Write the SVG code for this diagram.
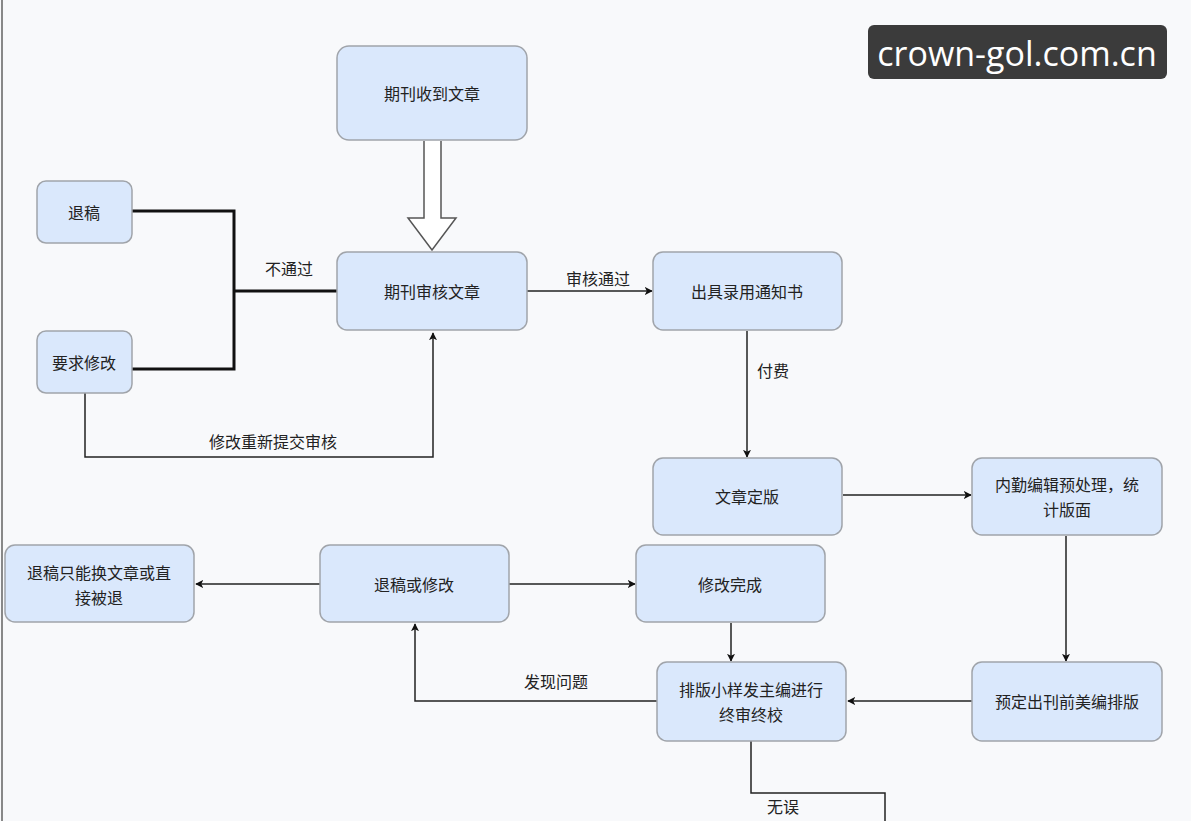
<svg xmlns="http://www.w3.org/2000/svg" width="1191" height="821" viewBox="0 0 1191 821">
<style>
.n{fill:#dae8fc;stroke:#a0a4aa;stroke-width:1.5}
.t{font-family:"Noto Sans CJK SC","Noto Sans",sans-serif;font-size:16px;fill:#222;text-anchor:middle;dominant-baseline:central}
.c{fill:none;stroke:#222;stroke-width:1.5}
.k{fill:none;stroke:#111;stroke-width:3}
</style>
<defs><marker id="a" viewBox="0 0 10 10" refX="9" refY="5" markerWidth="8" markerHeight="8" markerUnits="userSpaceOnUse" orient="auto"><path d="M0,0L10,5L0,10L2.5,5z" fill="#111"/></marker></defs>
<rect width="1191" height="821" fill="#f8f9fb"/>
<line x1="2" y1="0" x2="2" y2="821" stroke="#888" stroke-width="2"/>
<g id="connectors">
<path d="M424,141V218H408L432,250L456,218H441V141" fill="#fff" stroke="#555" stroke-width="1.5"/>
<path class="k" d="M132,211H234V369H132M234,291H337"/>
<path class="c" d="M85,393V457H433V333" marker-end="url(#a)"/>
<path class="c" d="M527,291H652" marker-end="url(#a)"/>
<path class="c" d="M747,331V457" marker-end="url(#a)"/>
<path class="c" d="M843,495H971" marker-end="url(#a)"/>
<path class="c" d="M1066,536V661" marker-end="url(#a)"/>
<path class="c" d="M972,701H848" marker-end="url(#a)"/>
<path class="c" d="M731,623V661" marker-end="url(#a)"/>
<path class="c" d="M657,701H415V624" marker-end="url(#a)"/>
<path class="c" d="M320,584H196" marker-end="url(#a)"/>
<path class="c" d="M509,584H635" marker-end="url(#a)"/>
<path class="c" d="M751,741V793H885V821"/>
<text class="t" x="289" y="268">不通过</text>
<text class="t" x="273" y="441">修改重新提交审核</text>
<text class="t" x="598" y="278">审核通过</text>
<text class="t" x="773" y="370">付费</text>
<text class="t" x="556" y="681">发现问题</text>
<text class="t" x="783" y="806">无误</text>
</g>
<g id="n1"><rect class="n" x="337" y="46" width="190" height="94" rx="12"/><text class="t" x="432" y="93">期刊收到文章</text></g>
<g id="n2"><rect class="n" x="37" y="181" width="95" height="62" rx="9"/><text class="t" x="84" y="212">退稿</text></g>
<g id="n3"><rect class="n" x="37" y="331" width="95" height="62" rx="9"/><text class="t" x="84" y="362">要求修改</text></g>
<g id="n4"><rect class="n" x="337" y="252" width="190" height="78" rx="10"/><text class="t" x="432" y="291">期刊审核文章</text></g>
<g id="n5"><rect class="n" x="653" y="252" width="189" height="78" rx="10"/><text class="t" x="747" y="291">出具录用通知书</text></g>
<g id="n6"><rect class="n" x="653" y="458" width="189" height="77" rx="10"/><text class="t" x="747" y="496">文章定版</text></g>
<g id="n7"><rect class="n" x="972" y="458" width="190" height="77" rx="10"/><text class="t" x="1067" y="484">内勤编辑预处理，统</text><text class="t" x="1067" y="509">计版面</text></g>
<g id="n8"><rect class="n" x="5" y="545" width="189" height="77" rx="10"/><text class="t" x="99" y="572">退稿只能换文章或直</text><text class="t" x="99" y="597">接被退</text></g>
<g id="n9"><rect class="n" x="320" y="545" width="189" height="77" rx="10"/><text class="t" x="414" y="584">退稿或修改</text></g>
<g id="n10"><rect class="n" x="636" y="545" width="189" height="77" rx="10"/><text class="t" x="730" y="584">修改完成</text></g>
<g id="n11"><rect class="n" x="657" y="662" width="189" height="79" rx="10"/><text class="t" x="751" y="689">排版小样发主编进行</text><text class="t" x="751" y="714">终审终校</text></g>
<g id="n12"><rect class="n" x="972" y="662" width="190" height="79" rx="10"/><text class="t" x="1067" y="701">预定出刊前美编排版</text></g>
<g id="wm"><rect x="868" y="25" width="299" height="54" rx="6" fill="#3b3b3b"/><text x="1017" y="53" font-family="'Open Sans','Noto Sans',sans-serif" font-size="34" fill="#fff" text-anchor="middle" dominant-baseline="central">crown-gol.com.cn</text></g>
</svg>
